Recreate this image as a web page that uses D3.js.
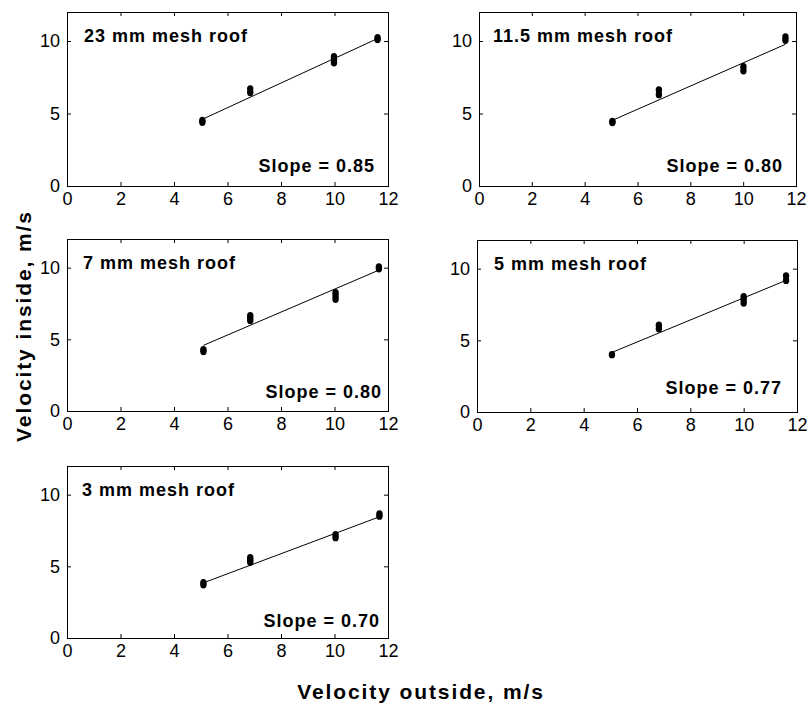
<!DOCTYPE html>
<html>
<head>
<meta charset="utf-8">
<script src="https://cdn.jsdelivr.net/npm/d3@7/dist/d3.min.js"></script>
<style>
  html, body { margin: 0; padding: 0; background: #fff; }
  svg { display: block; font-family: "Liberation Sans", Arial, sans-serif; }
  .tick text { font-size: 18px; fill: #000; }
  .tick line { stroke: #000; }
  .title, .slope { font-size: 18px; font-weight: bold; letter-spacing: 1px; }
  .axis-label { font-size: 21px; font-weight: bold; letter-spacing: 1.9px; }
</style>
</head>
<body>
<svg id="chart" width="809" height="717"></svg>
<script>
// Axis ticks shared by every panel
const xTicks = [0, 2, 4, 6, 8, 10, 12];
const yTicks = [0, 5, 10];

// Panel titles and fitted slopes
const panelTitles = ["23 mm mesh roof", "11.5 mm mesh roof", "7 mm mesh roof", "5 mm mesh roof", "3 mm mesh roof"];
const slopes = [0.85, 0.80, 0.80, 0.77, 0.70];
const intercepts = [0.30, 0.49, 0.50, 0.26, 0.28];

// Measured velocities [outside, inside] in m/s, replicate runs per wind speed
const mesh23 = [[5.06, 4.40], [5.06, 4.52], [6.85, 6.45], [6.85, 6.70], [9.98, 8.50], [9.98, 8.75], [9.98, 8.92], [11.61, 10.10], [11.61, 10.22]];
const mesh11_5 = [[5.05, 4.38], [5.05, 4.45], [6.81, 6.30], [6.81, 6.62], [10.01, 7.95], [10.01, 8.22], [11.60, 10.05], [11.60, 10.28]];
const mesh7 = [[5.10, 4.15], [5.10, 4.28], [6.85, 6.32], [6.85, 6.48], [6.85, 6.65], [10.04, 7.80], [10.04, 8.02], [10.04, 8.25], [11.66, 9.92], [11.66, 10.05]];
const mesh5 = [[5.06, 4.00], [6.82, 5.80], [6.82, 6.05], [10.00, 7.60], [10.00, 7.85], [10.00, 8.05], [11.59, 9.18], [11.59, 9.50]];
const mesh3 = [[5.10, 3.72], [5.10, 3.85], [6.85, 5.28], [6.85, 5.45], [6.85, 5.60], [10.04, 7.00], [10.04, 7.20], [11.68, 8.50], [11.68, 8.65]];
const panelData = [mesh23, mesh11_5, mesh7, mesh5, mesh3];

// Panel frames (pixels) and annotation placement
const layout = [
  { left: 67,  right: 388, top: 12,  bottom: 186, titleX: 84,  slopeX: 375, slopeUp: 14 },
  { left: 479, right: 796, top: 12,  bottom: 186, titleX: 493, slopeX: 783, slopeUp: 14 },
  { left: 67,  right: 388, top: 239, bottom: 411, titleX: 83,  slopeX: 382, slopeUp: 13 },
  { left: 477, right: 797, top: 240, bottom: 412, titleX: 494, slopeX: 782, slopeUp: 18 },
  { left: 67,  right: 388, top: 466, bottom: 638, titleX: 82,  slopeX: 380, slopeUp: 11 }
];

const svg = d3.select("#chart");

panelData.forEach((points, i) => {
  const L = layout[i];
  const x = d3.scaleLinear().domain([0, 12]).range([L.left, L.right]);
  const y = d3.scaleLinear().domain([0, 12]).range([L.bottom, L.top]);
  const g = svg.append("g");

  // inward ticks on all four sides
  g.append("g").attr("transform", `translate(0,${L.bottom})`)
    .call(d3.axisBottom(x).tickValues(xTicks).tickSizeInner(-4).tickSizeOuter(0).tickPadding(6).tickFormat(d3.format("d")));
  g.append("g").attr("transform", `translate(${L.left},0)`)
    .call(d3.axisLeft(y).tickValues(yTicks).tickSizeInner(-4).tickSizeOuter(0).tickPadding(7).tickFormat(d3.format("d")));
  g.append("g").attr("transform", `translate(0,${L.top})`)
    .call(d3.axisTop(x).tickValues(xTicks).tickSizeInner(-4).tickSizeOuter(0).tickFormat(""));
  g.append("g").attr("transform", `translate(${L.right},0)`)
    .call(d3.axisRight(y).tickValues(yTicks).tickSizeInner(-4).tickSizeOuter(0).tickFormat(""));
  g.selectAll(".domain").remove();
  g.selectAll(".tick text").attr("font-family", null).attr("font-size", null);

  g.append("rect")
    .attr("x", L.left + 0.5).attr("y", L.top + 0.5)
    .attr("width", L.right - L.left).attr("height", L.bottom - L.top)
    .attr("fill", "none").attr("stroke", "#000").attr("stroke-width", 1);

  // fitted line across the measured range
  const [x0, x1] = d3.extent(points, d => d[0]);
  const fit = [x0, x1].map(v => [v, intercepts[i] + slopes[i] * v]);
  g.append("path")
    .attr("d", d3.line().x(d => x(d[0])).y(d => y(d[1]))(fit))
    .attr("fill", "none").attr("stroke", "#000").attr("stroke-width", 1);

  g.selectAll("ellipse.pt").data(points).join("ellipse")
    .attr("class", "pt")
    .attr("cx", d => x(d[0])).attr("cy", d => y(d[1]))
    .attr("rx", 3.2).attr("ry", 3.7).attr("fill", "#000");

  g.append("text").attr("class", "title")
    .attr("x", L.titleX).attr("y", L.top + 29.5)
    .text(panelTitles[i]);
  g.append("text").attr("class", "slope")
    .attr("x", L.slopeX).attr("y", L.bottom - L.slopeUp)
    .attr("text-anchor", "end")
    .text(`Slope = ${slopes[i].toFixed(2)}`);
});

svg.append("text").attr("class", "axis-label")
  .attr("transform", "translate(31,326) rotate(-90)")
  .attr("text-anchor", "middle")
  .text("Velocity inside, m/s");

svg.append("text").attr("class", "axis-label")
  .attr("x", 421).attr("y", 699)
  .attr("text-anchor", "middle")
  .text("Velocity outside, m/s");
</script>
</body>
</html>
